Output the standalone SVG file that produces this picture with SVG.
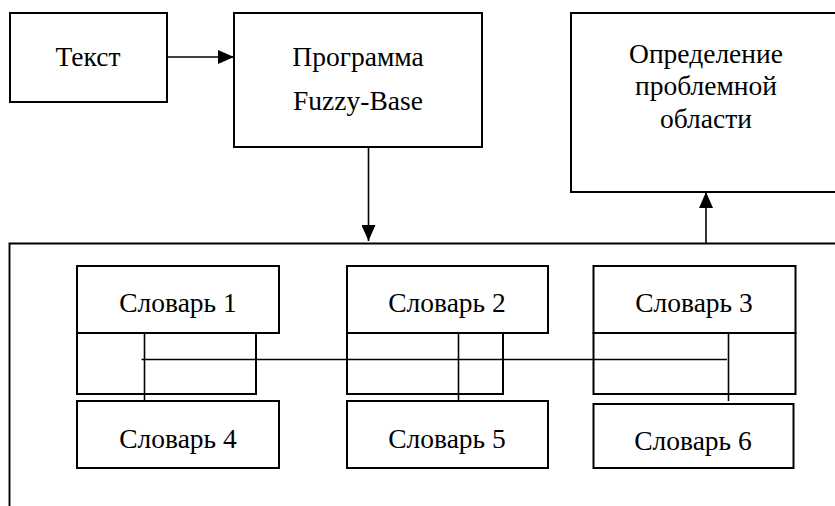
<svg xmlns="http://www.w3.org/2000/svg" width="835" height="506" viewBox="0 0 835 506">
<defs>
<style>
.b{fill:#fff;stroke:#000;stroke-width:2}
.l{fill:none;stroke:#000;stroke-width:1.6}
text{font-family:"Liberation Serif","Times New Roman",serif;font-size:27.5px;fill:#000;text-anchor:middle}
</style>
<marker id="ah" markerWidth="16" markerHeight="14" refX="16" refY="7" orient="auto" markerUnits="userSpaceOnUse">
<path d="M0,0 L16,7 L0,14 Z" fill="#000"/>
</marker>
</defs>
<rect width="835" height="506" fill="#fff"/>
<g id="container">
<path class="l" d="M9.5,506 V243.5 H835" style="stroke-width:1.9"/>
</g>
<g id="tekst">
<rect class="b" x="10" y="13" width="157" height="89"/>
<text x="88" y="66">Текст</text>
</g>
<g id="programma">
<rect class="b" x="234" y="13" width="248" height="134"/>
<text x="358" y="66">Программа</text>
<text x="358" y="110">Fuzzy-Base</text>
</g>
<g id="opredelenie">
<rect class="b" x="571" y="13" width="270" height="179"/>
<text x="706" y="63">Определение</text>
<text x="706" y="95">проблемной</text>
<text x="706" y="128">области</text>
</g>
<g id="slovar1">
<rect class="b" x="77" y="266" width="202" height="67"/>
<text x="178" y="312">Словарь 1</text>
</g>
<g id="sub1"><rect class="b" x="77" y="333" width="179" height="61"/></g>
<g id="slovar4">
<rect class="b" x="77" y="401" width="202" height="67"/>
<text x="178" y="448">Словарь 4</text>
</g>
<g id="slovar2">
<rect class="b" x="347" y="266" width="201" height="67"/>
<text x="447" y="312">Словарь 2</text>
</g>
<g id="sub2"><rect class="b" x="347" y="333" width="156" height="61"/></g>
<g id="slovar5">
<rect class="b" x="347" y="401" width="201" height="67"/>
<text x="447" y="448">Словарь 5</text>
</g>
<g id="slovar3">
<rect class="b" x="593.5" y="266" width="202" height="67"/>
<text x="694" y="312">Словарь 3</text>
</g>
<g id="sub3"><rect class="b" x="593.5" y="333" width="202" height="61"/></g>
<g id="slovar6">
<rect class="b" x="593.5" y="404" width="200" height="64"/>
<text x="693" y="450">Словарь 6</text>
</g>
<g id="connectors">
<line class="l" x1="167" y1="57" x2="234" y2="57" marker-end="url(#ah)"/>
<line class="l" x1="368.5" y1="147" x2="368.5" y2="241" marker-end="url(#ah)"/>
<line class="l" x1="706" y1="243.5" x2="706" y2="192" marker-end="url(#ah)"/>
<line class="l" x1="141.5" y1="359.5" x2="727" y2="359.5"/>
<line class="l" x1="144.5" y1="333" x2="144.5" y2="401"/>
<line class="l" x1="458.5" y1="333" x2="458.5" y2="401"/>
<line class="l" x1="728.5" y1="333" x2="728.5" y2="401"/>
</g>
</svg>
